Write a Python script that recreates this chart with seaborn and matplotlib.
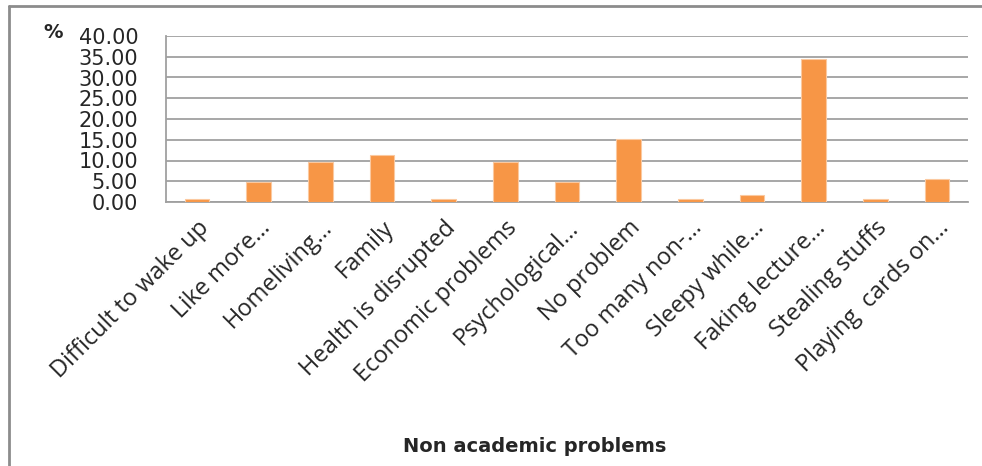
import matplotlib
matplotlib.use("Agg")
import matplotlib.pyplot as plt
from matplotlib.lines import Line2D
from matplotlib.ticker import FixedLocator, FormatStrFormatter
import seaborn as sns
import pandas as pd

categories = ["Difficult to wake up", "Like more…", "Homeliving…", "Family",
              "Health is disrupted", "Economic problems", "Psychological…",
              "No problem", "Too many non-…", "Sleepy while…", "Faking lecture…",
              "Stealing stuffs", "Playing  cards on…"]
values = [0.68, 4.73, 9.66, 11.3, 0.68, 9.66, 4.73, 15.2, 0.68, 1.6, 34.5, 0.68, 5.6]
y_ticks = [0, 5, 10, 15, 20, 25, 30, 35, 40]

sns.set_style("white")
plt.rcParams['font.family'] = ['DejaVu Sans']

df = pd.DataFrame({"cat": categories, "val": values})

fig = plt.figure(figsize=(9.82, 4.66), dpi=100)
W, H = 982, 466
ax = fig.add_axes([166 / W, 1 - 202 / H, 802 / W, 166 / H])

sns.barplot(data=df, x="cat", y="val", color="#F79646", width=0.4, ax=ax,
            saturation=1, edgecolor="#FBC9A0", linewidth=0.8, zorder=3)

ax.set_ylim(0, 40)
ax.set_xlim(-0.5, len(categories) - 0.5)
ax.yaxis.set_major_locator(FixedLocator(y_ticks))
ax.yaxis.set_major_formatter(FormatStrFormatter('%.2f'))
ax.tick_params(axis='y', length=0, pad=20, labelsize=15, colors='#262626')
ax.grid(axis='y', color='#A0A0A0', linewidth=1.3, zorder=0)
ax.set_axisbelow(True)

# category ticks
ax.set_xticks(range(len(categories)))
ax.set_xticklabels(categories, rotation=45, ha='right', va='top',
                   rotation_mode='anchor', fontsize=17, color='#262626',
                   family=['Open Sans', 'DejaVu Sans'])
ax.tick_params(axis='x', which='major', length=0, pad=10)
ax.set_xticks([i - 0.5 for i in range(len(categories) + 1)], minor=True)
ax.tick_params(axis='x', which='minor', length=6, width=1.2, color='#A0A0A0', direction='out')
ax.set_xlabel("")
ax.set_ylabel("")

for s in ['top', 'right']:
    ax.spines[s].set_visible(False)
for s in ['left', 'bottom']:
    ax.spines[s].set_color('#A0A0A0')
    ax.spines[s].set_linewidth(1.3)

fig.text(53 / W, 1 - 33 / H, "%", ha='center', va='center', fontsize=14,
         fontweight='bold', color='#262626')
fig.text(535 / W, 1 - 446 / H, "Non academic problems", ha='center', va='center',
         fontsize=14, fontweight='bold', color='#262626')

# outer frame (top and left visible)
fig.add_artist(Line2D([9 / W, 9 / W], [0, 1 - 6 / H], transform=fig.transFigure,
                      color='#8C8C8C', linewidth=2))
fig.add_artist(Line2D([9 / W, 1], [1 - 6 / H, 1 - 6 / H], transform=fig.transFigure,
                      color='#8C8C8C', linewidth=2))

fig.savefig("out.png", dpi=100)
